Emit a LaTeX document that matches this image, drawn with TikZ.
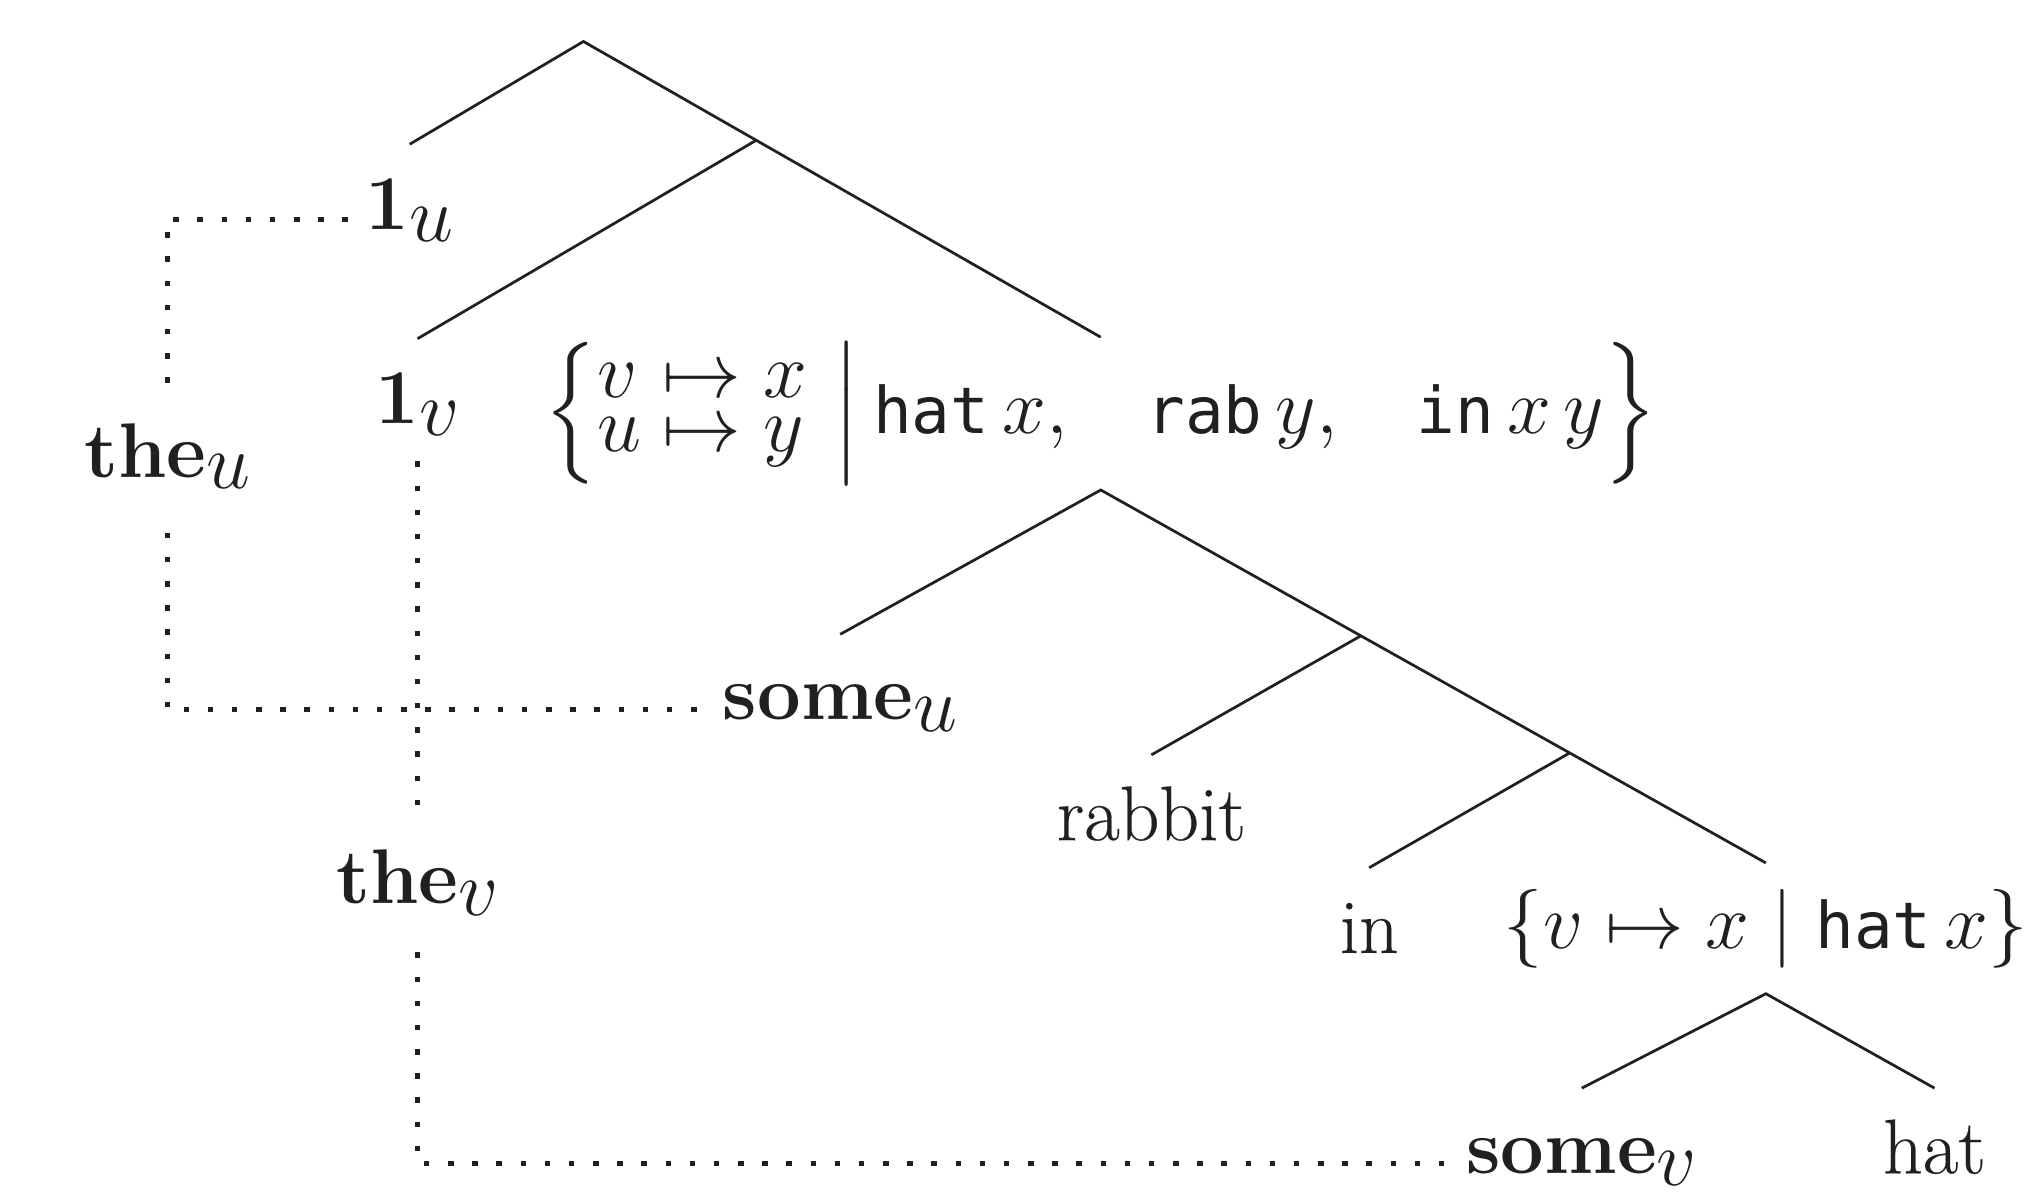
\documentclass[tikz,border=0pt]{standalone}
\usepackage{amsmath}
\usepackage{fontspec}
\setmainfont{Latin Modern Roman}[UprightFeatures={FakeBold=0.3}]
\setmonofont{DejaVu Sans Mono}[Scale=0.83]
\usetikzlibrary{calc}
\definecolor{ink}{RGB}{35,31,32}
% lowered italic index after a bold word
\newcommand\ix[1]{\raisebox{-0.15em}{$#1$}}
\begin{document}
\begin{tikzpicture}[x=0.01cm,y=-0.01cm,
  every node/.style={text=ink, font=\fontsize{17}{20}\selectfont},
  leaf/.style={anchor=base, inner xsep=0pt, inner ysep=6.5pt, text height=12pt, text depth=4pt},
  setbox/.style={inner xsep=0pt, inner ysep=1pt},
  branch/.style={draw=ink, line width=0.6pt},
  link/.style={draw=ink, line width=1.2pt, dash pattern=on 1.2pt off 4.1pt}]
\useasboundingbox (0,0) rectangle (1568,921);

% leaves and labels
\node[leaf] (oneu)   at (316,177) {\textbf{1}\ix{u}};
\node[leaf] (onev)   at (322,327) {\textbf{1}\ix{v}};
\node[leaf] (theu)   at (129,368) {\textbf{the}\ix{u}};
\node[leaf] (thev)   at (322,697) {\textbf{the}\ix{v}};
\node[leaf] (someu)  at (648,555) {\textbf{some}\ix{u}};
\node[leaf] (rabbit) at (888,648) {rabbit};
\node[leaf] (nin)    at (1056,735) {in};
\node[leaf] (somev)  at (1220,905) {\textbf{some}\ix{v}};
\node[leaf] (hat)    at (1492,905) {hat};

% set-valued nodes
\node[setbox] (s1) at (849,319) {\renewcommand\arraystretch{0.6}%
  $\left\{\begin{array}{@{}l@{\;}c@{\;}l@{}} v & \mapsto & x\\ u & \mapsto & y\end{array}\mkern6mu\middle|\mkern3mu\texttt{hat}\,x,\mkern15mu \texttt{rab}\,y,\mkern15mu \texttt{in}\,x\,y\right\}$};
\node[setbox, inner ysep=5.5pt] (s2) at (1362,716)
  {$\{v\mapsto x\mid\texttt{hat}\,x\}$};

% tree branches
\coordinate (r0) at (450,32);
\coordinate (r1) at ($(r0)!0.334!(s1.north)$);
\coordinate (r3) at ($(s1.south)!0.391!(s2.north)$);
\coordinate (r4) at ($(s1.south)!0.705!(s2.north)$);
\draw[branch] (oneu.north) -- (r0) -- (s1.north);
\draw[branch] (onev.north) -- (r1);
\draw[branch] (someu.north) -- (s1.south) -- (s2.north);
\draw[branch] (rabbit.north) -- (r3);
\draw[branch] (nin.north) -- (r4);
\draw[branch] (somev.north) -- (s2.south) -- (hat.north);

% binding links
\draw[link] ([yshift=2pt]theu.north) |- ([xshift=-2pt]oneu.mid west);
\draw[link] ([yshift=-1.5pt]theu.south) |- ([xshift=-2.5pt]someu.mid west);
\draw[link] ([yshift=2.5pt]onev.south) -- ([yshift=2pt]thev.north);
\draw[link] (thev.south) |- ([xshift=-2.5pt]somev.mid west);
\end{tikzpicture}
\end{document}
